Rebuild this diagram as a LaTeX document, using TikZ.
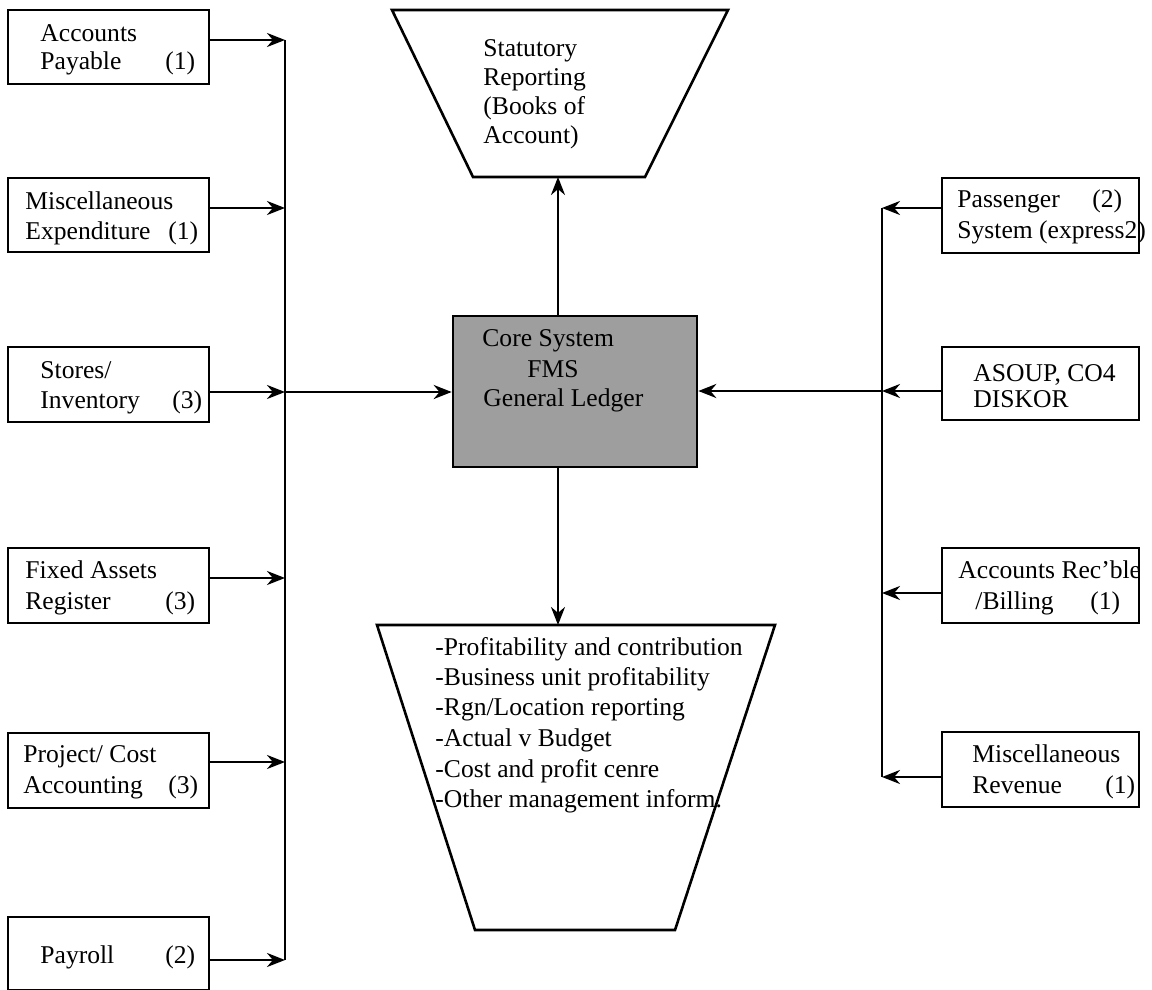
\documentclass[tikz,border=0pt]{standalone}
\usepackage{fontspec}
\setmainfont{Liberation Serif}
\usetikzlibrary{arrows.meta}

\tikzset{
  srcbox/.style={draw, line width=1.3pt, rectangle, inner sep=0pt},
  corebox/.style={draw, line width=1.3pt, rectangle, inner sep=0pt, fill=black!38},
  lbl/.style={anchor=base west, inner sep=0pt, font=\fontsize{12.8}{15}\selectfont},
  link/.style={line width=1.3pt},
  arr/.style={link, -{Stealth[length=9pt,width=7pt]}},
  funnel/.style={line width=1.3pt, line join=miter},
}

\begin{document}
\begin{tikzpicture}[x=0.5pt,y=-0.5pt]
  \useasboundingbox[fill=white] (0,0) rectangle (1152,990);

  % ---- feeder systems on the left ----
  \node[srcbox, minimum width=100.5pt, minimum height=37pt]   (ap) at (108.5,47)    {};
  \node[srcbox, minimum width=100.5pt, minimum height=37pt]   (me) at (108.5,215)   {};
  \node[srcbox, minimum width=100.5pt, minimum height=37.5pt] (st) at (108.5,384.5) {};
  \node[srcbox, minimum width=100.5pt, minimum height=37.5pt] (fa) at (108.5,585.5) {};
  \node[srcbox, minimum width=100.5pt, minimum height=37.5pt] (pc) at (108.5,770.5) {};
  \node[srcbox, minimum width=100.5pt, minimum height=36.5pt] (pr) at (108.5,953.5) {};

  \node[lbl] (ap1) at (40,42)  {Accounts};
  \node[lbl] (ap2) at (40,70)  {Payable};
  \node[lbl] (ap3) at (165,70) {(1)};

  \node[lbl] (me1) at (25,210)  {Miscellaneous};
  \node[lbl] (me2) at (25,239)  {Expenditure};
  \node[lbl] (me3) at (168,239) {(1)};

  \node[lbl] (st1) at (40,378)  {Stores/};
  \node[lbl] (st2) at (40,408)  {Inventory};
  \node[lbl] (st3) at (172,408) {(3)};

  \node[lbl] (fa1) at (25,578)  {Fixed Assets};
  \node[lbl] (fa2) at (25,609)  {Register};
  \node[lbl] (fa3) at (165,609) {(3)};

  \node[lbl] (pc1) at (23,762)  {Project/ Cost};
  \node[lbl] (pc2) at (23,793)  {Accounting};
  \node[lbl] (pc3) at (168,793) {(3)};

  \node[lbl] (pr1) at (40,963)  {Payroll};
  \node[lbl] (pr2) at (165,963) {(2)};

  % ---- feeder systems on the right ----
  \node[srcbox, minimum width=98.5pt, minimum height=37.5pt] (ps) at (1040.5,215.5) {};
  \node[srcbox, minimum width=98.5pt, minimum height=36.5pt] (as) at (1040.5,383.5) {};
  \node[srcbox, minimum width=98.5pt, minimum height=37.5pt] (ar) at (1040.5,585.5) {};
  \node[srcbox, minimum width=98.5pt, minimum height=37.5pt] (mr) at (1040.5,769.5) {};

  \node[lbl] (ps1) at (957,207)  {Passenger};
  \node[lbl] (ps2) at (1092,207) {(2)};
  \node[lbl] (ps3) at (957,238)  {System (express2)};

  \node[lbl] (as1) at (973,381) {ASOUP, CO4};
  \node[lbl] (as2) at (973,407) {DISKOR};

  \node[lbl] (ar1) at (958,578)  {Accounts Rec’ble};
  \node[lbl] (ar2) at (975,609)  {/Billing};
  \node[lbl] (ar3) at (1090,609) {(1)};

  \node[lbl] (mr1) at (972,762)  {Miscellaneous};
  \node[lbl] (mr2) at (972,793)  {Revenue};
  \node[lbl] (mr3) at (1105,793) {(1)};

  % ---- core ledger ----
  \node[corebox, minimum width=122pt, minimum height=75.5pt] (core) at (575,391.5) {};
  \node[lbl] (co1) at (482,346) {Core System};
  \node[lbl] (co2) at (527,377) {FMS};
  \node[lbl] (co3) at (483,406) {General Ledger};

  % ---- statutory reporting funnel ----
  \draw[funnel] (392,10) -- (728,10) -- (645,177) -- (473,177) -- cycle;
  \coordinate (stat) at (558,177);
  \node[lbl] (sr1) at (483,57)  {Statutory};
  \node[lbl] (sr2) at (483,86)  {Reporting};
  \node[lbl] (sr3) at (483,115) {(Books of};
  \node[lbl] (sr4) at (483,144) {Account)};

  % ---- management reporting funnel ----
  \draw[funnel] (377,625) -- (775,625) -- (675,930) -- (475,930) -- cycle;
  \coordinate (mgmt) at (558,625);
  \node[lbl] (mg1) at (435,655) {-Profitability and contribution};
  \node[lbl] (mg2) at (435,685) {-Business unit profitability};
  \node[lbl] (mg3) at (435,715) {-Rgn/Location reporting};
  \node[lbl] (mg4) at (435,746) {-Actual v Budget};
  \node[lbl] (mg5) at (435,777) {-Cost and profit cenre};
  \node[lbl] (mg6) at (435,807) {-Other management inform.};

  % ---- left collector bus ----
  \coordinate (lb1) at (285,40);
  \coordinate (lb2) at (285,208);
  \coordinate (lb3) at (285,392);
  \coordinate (lb4) at (285,578);
  \coordinate (lb5) at (285,762);
  \coordinate (lb6) at (285,960);
  \draw[link] (lb1) -- (lb6);
  \draw[arr] (ap.east |- lb1) -- (lb1);
  \draw[arr] (me.east |- lb2) -- (lb2);
  \draw[arr] (st.east |- lb3) -- (lb3);
  \draw[arr] (fa.east |- lb4) -- (lb4);
  \draw[arr] (pc.east |- lb5) -- (lb5);
  \draw[arr] (pr.east |- lb6) -- (lb6);
  \draw[arr] (lb3) -- (core.west |- lb3);

  % ---- right collector bus ----
  \coordinate (rb1) at (882,208);
  \coordinate (rb2) at (882,391);
  \coordinate (rb3) at (882,593);
  \coordinate (rb4) at (882,777);
  \draw[link] (rb1) -- (rb4);
  \draw[arr] (ps.west |- rb1) -- (rb1);
  \draw[arr] (as.west |- rb2) -- (rb2);
  \draw[arr] (ar.west |- rb3) -- (rb3);
  \draw[arr] (mr.west |- rb4) -- (rb4);
  \draw[arr] (rb2) -- (core.east |- rb2);

  % ---- outputs from the ledger ----
  \draw[arr] (core.north -| stat) -- (stat);
  \draw[arr] (core.south -| mgmt) -- (mgmt);
\end{tikzpicture}
\end{document}
